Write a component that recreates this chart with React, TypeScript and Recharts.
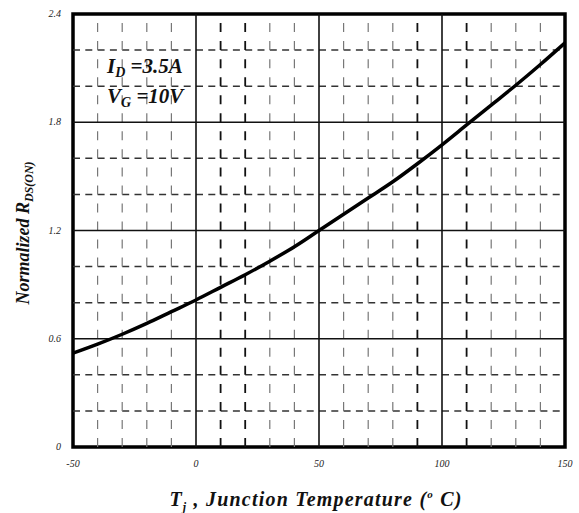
import {
  LineChart,
  Line,
  XAxis,
  YAxis,
  ReferenceLine,
  ReferenceArea,
  Label,
} from 'recharts';

const temps = [-50, -40, -30, -20, -10, 0, 10, 20, 30, 40, 50, 60, 70, 80, 90, 100, 110, 120, 130, 140, 150];
const rdsOn = [0.52, 0.57, 0.625, 0.685, 0.75, 0.815, 0.885, 0.955, 1.03, 1.11, 1.2, 1.29, 1.38, 1.47, 1.57, 1.675, 1.785, 1.895, 2.005, 2.12, 2.24];

const xTicks = [-50, 0, 50, 100, 150];
const yTicks = [0, 0.6, 1.2, 1.8, 2.4];
const xMajor = [0, 50, 100];
const xMinorDark = [10, 20, 90, 110];
const xMinorLight = [-40, -30, -20, -10, 30, 40, 60, 70, 80, 120, 130, 140];
const yMajor = [0.6, 1.2, 1.8];
const yMinor = [0.2, 0.4, 0.8, 1.0, 1.4, 1.6, 2.0, 2.2];

const data = temps.map((t, i) => ({ t, r: rdsOn[i] }));

const SERIF = '"Liberation Serif", "Times New Roman", serif';

const XTick = ({ x, y, payload }: any) => (
  <text x={x} y={y + 12} textAnchor="middle" fontFamily={SERIF} fontStyle="italic" fontSize={10} fill="#222">
    {payload.value}
  </text>
);

const YTick = ({ x, y, payload }: any) => (
  <text x={x - 4} y={y + 3} textAnchor="end" fontFamily={SERIF} fontStyle="italic" fontSize={10} fill="#222">
    {payload.value}
  </text>
);

const YTitle = () => (
  <text
    transform="translate(29, 233) rotate(-90)"
    textAnchor="middle"
    fontFamily={SERIF}
    fontStyle="italic"
    fontWeight="bold"
    fontSize={18}
    fill="#111"
  >
    Normalized R
    <tspan fontSize={12} dy={4}>DS(ON)</tspan>
  </text>
);

const XTitle = () => (
  <text x={316} y={506} textAnchor="middle" fontFamily={SERIF} fontStyle="italic" fontWeight="bold" fontSize={20} letterSpacing={1.2} fill="#111">
    T
    <tspan fontSize={12} dy={5}>j</tspan>
    <tspan dy={-5}> , Junction Temperature (</tspan>
    <tspan fontSize={11} dy={-8}>o</tspan>
    <tspan dy={8}> C)</tspan>
  </text>
);

const Conditions = () => (
  <g fontFamily={SERIF} fontStyle="italic" fontWeight="bold" fontSize={21} fill="#111">
    <text x={107} y={73}>
      I
      <tspan fontSize={14} dy={4}>D</tspan>
      <tspan dy={-4}> =3.5A</tspan>
    </text>
    <text x={107} y={103}>
      V
      <tspan fontSize={14} dy={4}>G</tspan>
      <tspan dy={-4}> =10V</tspan>
    </text>
  </g>
);

export default function App() {
  return (
    <div style={{ position: 'absolute', left: 0, top: 0, background: '#fff' }}>
      <LineChart width={579} height={513} data={data} margin={{ top: 14, right: 14, left: 33, bottom: 36 }}>
        <XAxis
          dataKey="t"
          type="number"
          domain={[-50, 150]}
          ticks={xTicks}
          tick={<XTick />}
          axisLine={false}
          tickLine={false}
          height={30}
        >
          <Label content={<XTitle />} />
        </XAxis>
        <YAxis
          type="number"
          domain={[0, 2.4]}
          ticks={yTicks}
          tick={<YTick />}
          axisLine={false}
          tickLine={false}
          width={40}
        >
          <Label content={<YTitle />} />
        </YAxis>
        {yMinor.map((v) => (
          <ReferenceLine key={`ym${v}`} y={v} stroke="#333" strokeWidth={1.5} strokeDasharray="7 5.3" />
        ))}
        {xMinorLight.map((v) => (
          <ReferenceLine key={`xl${v}`} x={v} stroke="#777" strokeWidth={1.2} strokeDasharray="9 9.04" />
        ))}
        {xMinorDark.map((v) => (
          <ReferenceLine key={`xd${v}`} x={v} stroke="#111" strokeWidth={1.8} strokeDasharray="9 9.04" />
        ))}
        {yMajor.map((v) => (
          <ReferenceLine key={`yM${v}`} y={v} stroke="#111" strokeWidth={1.3} />
        ))}
        {xMajor.map((v) => (
          <ReferenceLine key={`xM${v}`} x={v} stroke="#111" strokeWidth={1.6} />
        ))}
        <ReferenceArea x1={-50} x2={150} y1={0} y2={2.4} fill="none" stroke="#000" strokeWidth={3.5} />
        <Line
          dataKey="r"
          type="monotone"
          stroke="#000"
          strokeWidth={3.5}
          dot={false}
          isAnimationActive={false}
        />
        <ReferenceLine x={-50} stroke="none" label={<Conditions />} />
      </LineChart>
    </div>
  );
}
